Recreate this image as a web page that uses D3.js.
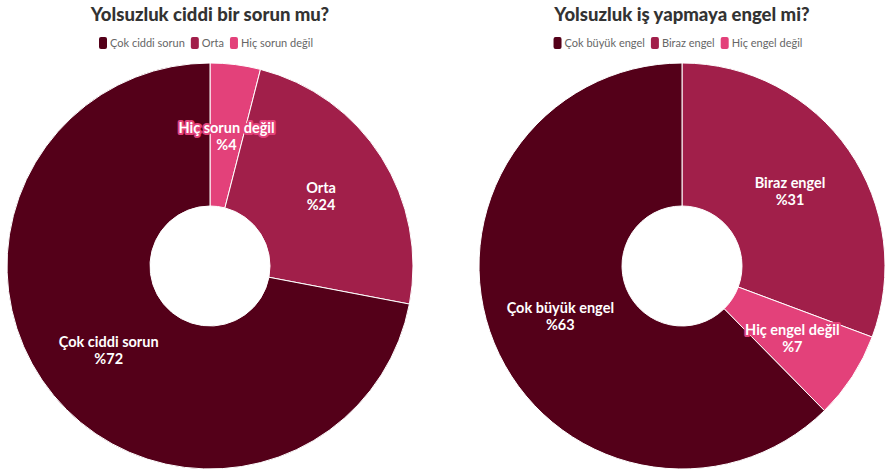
<!DOCTYPE html>
<html>
<head>
<meta charset="utf-8">
<script src="https://cdn.jsdelivr.net/npm/d3@7"></script>
<style>
  body { margin: 0; background: #ffffff; }
  svg { display: block; font-family: Lato, "Open Sans", sans-serif; }
</style>
</head>
<body>
<svg id="chart"></svg>
<script>
// chart data
const titles = ["Yolsuzluk ciddi bir sorun mu?", "Yolsuzluk iş yapmaya engel mi?"];
const leftLabels = ["Hiç sorun değil", "Orta", "Çok ciddi sorun"];
const leftValues = [4, 24, 72];
const rightLabels = ["Biraz engel", "Hiç engel değil", "Çok büyük engel"];
const rightValues = [31, 7, 63];
// legend order differs from the slice order
const leftLegend = ["Çok ciddi sorun", "Orta", "Hiç sorun değil"];
const rightLegend = ["Çok büyük engel", "Biraz engel", "Hiç engel değil"];

const width = 888;
const height = 474;
const outerR = 203;
const innerR = 60;

const svg = d3.select("#chart")
    .attr("width", width)
    .attr("height", height);

const charts = [
    { cx: 210, title: titles[0], labels: leftLabels, values: leftValues, legend: leftLegend,
      colors: ["#e3417a", "#a11f4a", "#540019"] },
    { cx: 682, title: titles[1], labels: rightLabels, values: rightValues, legend: rightLegend,
      colors: ["#a11f4a", "#e3417a", "#540019"] }
];

const pie = d3.pie().sort(null).value(d => d.value);
const arc = d3.arc().innerRadius(innerR).outerRadius(outerR);

charts.forEach(c => {
    const data = c.labels.map((l, i) => ({ label: l, value: c.values[i], color: c.colors[i] }));
    const colorOf = d3.scaleOrdinal().domain(c.labels).range(c.colors);

    // title
    svg.append("text")
        .attr("x", c.cx)
        .attr("y", 21)
        .attr("text-anchor", "middle")
        .style("font-size", "18.5px")
        .style("font-weight", "900")
        .style("fill", "#333333")
        .text(c.title);

    // legend, centred under the title
    const legend = svg.append("g");
    let x = 0;
    c.legend.forEach(name => {
        const item = legend.append("g").attr("transform", `translate(${x},0)`);
        item.append("rect")
            .attr("x", 0).attr("y", 37)
            .attr("width", 8).attr("height", 12)
            .attr("rx", 2)
            .attr("fill", colorOf(name));
        const t = item.append("text")
            .attr("x", 11).attr("y", 47)
            .style("font-size", "11px")
            .style("fill", "#666666")
            .text(name);
        x += 11 + t.node().getComputedTextLength() + 6;
    });
    legend.attr("transform", `translate(${c.cx - 4 - (x - 6) / 2},0)`);

    const g = svg.append("g").attr("transform", `translate(${c.cx},266)`);

    g.selectAll("path")
        .data(pie(data))
        .enter().append("path")
        .attr("d", arc)
        .attr("fill", d => d.data.color)
        .attr("stroke", "#ffffff")
        .attr("stroke-width", 1);

    const labels = g.selectAll(".label")
        .data(pie(data))
        .enter().append("text")
        .attr("class", "label")
        .attr("transform", d => `translate(${arc.centroid(d)})`)
        .attr("text-anchor", "middle")
        .style("font-size", "14.5px")
        .style("font-weight", "bold")
        .style("fill", "#ffffff")
        .style("stroke", d => d.data.color)
        .style("stroke-width", 4)
        .style("stroke-linejoin", "round")
        .style("paint-order", "stroke");

    labels.append("tspan")
        .attr("x", 0).attr("y", -3)
        .text(d => d.data.label);
    labels.append("tspan")
        .attr("x", 0).attr("y", 14)
        .text(d => "%" + d.data.value);
});
</script>
</body>
</html>
